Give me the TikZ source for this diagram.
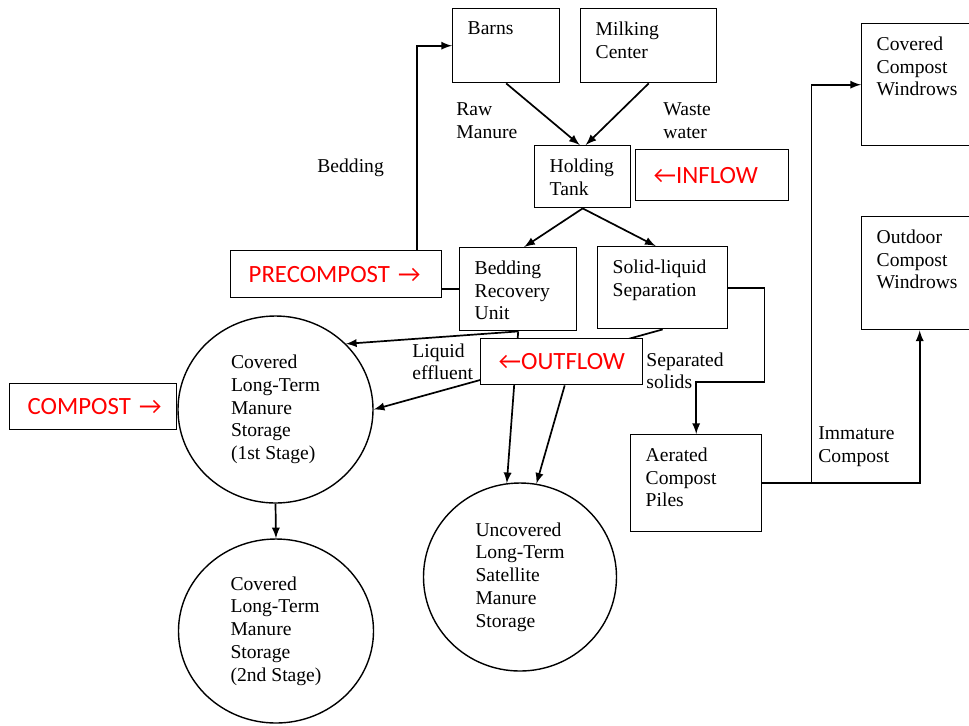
\documentclass[tikz,border=0pt]{standalone}
\usepackage{fontspec}
\setmainfont{Liberation Serif}
\newfontfamily\notefont{Carlito}
\usetikzlibrary{positioning,shapes.geometric}
\newcommand{\toptext}[3]{\parbox[c][#2][t]{#1}{\raggedright #3}}

\begin{document}
\begin{tikzpicture}[x=0.5pt,y=-0.5pt,
    font=\fontsize{9.8}{11.4}\selectfont,
    unit/.style={draw, line width=0.7pt, anchor=north west, inner xsep=7.5pt, inner ysep=6.5pt},
    store/.style={draw, ellipse, line width=0.7pt, inner sep=0pt, align=left},
    note/.style={draw, line width=0.7pt, fill=white, anchor=north west, align=left,
                 inner xsep=9pt, inner ysep=0pt, text=red, font=\notefont\fontsize{12.4}{15}\selectfont},
    lbl/.style={anchor=north west, inner sep=0pt, align=left},
    flow/.style={-latex, line width=0.85pt}]
  \useasboundingbox (0,0) rectangle (969,725);

  % boxes
  \node[unit] (barns)    at (452,8)   {\toptext{38.5pt}{24pt}{Barns}};
  \node[unit] (milking)  at (580,8)   {\toptext{53pt}{24pt}{Milking\\Center}};
  \node[unit] (holding)  at (534,145) {\toptext{33pt}{18pt}{Holding\\Tank}};
  \node[unit] (recovery) at (459,247) {\toptext{43.5pt}{28.5pt}{Bedding\\Recovery\\Unit}};
  \node[unit] (solid)    at (597,246) {\toptext{50pt}{28pt}{Solid-liquid\\Separation}};
  \node[unit] (aerated)  at (630,434) {\toptext{50.5pt}{35.5pt}{Aerated\\Compost\\Piles}};
  \node[unit] (covwin)   at (861,23)  {\toptext{43pt}{48pt}{Covered\\Compost\\Windrows}};
  \node[unit] (outwin)   at (861,216) {\toptext{43pt}{43.5pt}{Outdoor\\Compost\\Windrows}};

  % storages
  \node[store, minimum width=97.5pt, minimum height=93.5pt] (store1) at (275.5,409.5)
    {Covered\\Long-Term\\Manure\\Storage\\(1st Stage)};
  \node[store, minimum width=97.5pt, minimum height=92pt] (store2) at (276,631)
    {Covered\\Long-Term\\Manure\\Storage\\(2nd Stage)};
  \node[store, minimum width=96.5pt, minimum height=94pt] (satellite) at (520,577)
    {Uncovered\\Long-Term\\Satellite\\Manure\\Storage};

  % labels
  \node[lbl] (rawlbl)   at (456,102) {Raw\\Manure};
  \node[lbl] (wastelbl) at (663,102) {Waste\\water};
  \node[lbl] (bedlbl)   at (317,158) {Bedding};
  \node[lbl] (liqlbl)   at (412,343) {Liquid\\effluent};
  \node[lbl] (seplbl)   at (646,352) {Separated\\solids};
  \node[lbl] (immlbl)   at (818,426) {Immature\\Compost};

  % flows
  \draw[flow] (barns.south) -- ([xshift=-1.5pt]holding.north);
  \draw[flow] (milking.south) -- ([xshift=1.5pt]holding.north);
  \draw[flow] (holding.south) -- ([xshift=3pt]recovery.north);
  \draw[flow] (holding.south) -- ([xshift=-3.5pt]solid.north);
  \draw[flow] (recovery.west) -- ++(-42,0) |- (barns.west);
  \draw[flow] (recovery.south) -- (store1.43);
  \draw[flow] (recovery.south) -- (satellite.98);
  \draw[flow] (solid.south) -- (store1.east);
  \draw[flow] (store1.south) -- (store2.north);
  \draw[flow] (solid.east) -| ++(36,94) -| (aerated.north);
  \draw[flow] (aerated.east) -| (outwin.south);
  \draw[flow] (aerated.east) -- ++(49,0) |- (covwin.west);

  % notes
  \node[note, text width=58.5pt, minimum height=25.5pt] (inflow)  at (635,149) {←INFLOW};
  \node[note, text width=87.5pt, minimum height=23.5pt] (precomp) at (230,250) {PRECOMPOST~→};
  \node[note, text width=65.5pt, minimum height=23pt]   (compost) at (9,383)   {COMPOST~→};
  \node[note, text width=63pt, minimum height=23pt]     (outflow) at (480,338) {←OUTFLOW};
  \draw[flow] ([xshift=1.5pt]outflow.south) -- (satellite.80);
\end{tikzpicture}
\end{document}
